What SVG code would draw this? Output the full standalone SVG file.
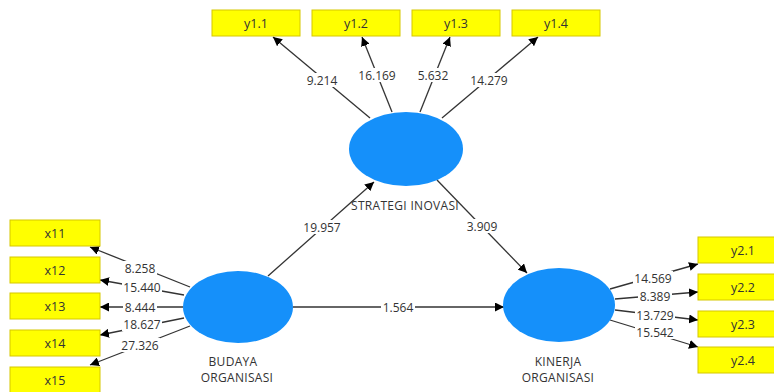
<svg xmlns="http://www.w3.org/2000/svg" width="774" height="392" viewBox="0 0 774 392">
<style>
.box{fill:#ffff00;stroke:#d6c800;stroke-width:1}
.lv{fill:#1590fa}
.bt{font-family:"Open Sans","Noto Sans",sans-serif;font-size:12.5px;fill:#333;text-anchor:middle;dominant-baseline:central}
.lt{font-family:"Open Sans","Noto Sans",sans-serif;font-size:12px;letter-spacing:0.3px;fill:#333;text-anchor:middle;dominant-baseline:central}
.wt{font-family:"Open Sans","Noto Sans",sans-serif;font-size:12px;fill:#333;text-anchor:middle;dominant-baseline:central}
.bg{fill:#fff}
.ln{stroke:#333;stroke-width:1.3;fill:none;marker-end:url(#ah)}
</style>
<defs>
<marker id="ah" viewBox="0 0 10 10" refX="10" refY="5" markerWidth="9" markerHeight="9" markerUnits="userSpaceOnUse" orient="auto">
<path d="M0,0 L10,5 L0,10 z" fill="#000"/>
</marker>
</defs>
<rect width="774" height="392" fill="#fff"/>
<g id="connectors">
<line class="ln" x1="370" y1="118" x2="273" y2="37"/>
<line class="ln" x1="392" y1="112" x2="362" y2="37"/>
<line class="ln" x1="420" y1="112" x2="450" y2="37"/>
<line class="ln" x1="442" y1="118" x2="538" y2="37"/>
<line class="ln" x1="190" y1="287" x2="90" y2="247"/>
<line class="ln" x1="184" y1="295" x2="100" y2="280"/>
<line class="ln" x1="183" y1="307" x2="100" y2="307"/>
<line class="ln" x1="184" y1="318" x2="100" y2="335"/>
<line class="ln" x1="190" y1="326" x2="90" y2="365"/>
<line class="ln" x1="610" y1="289" x2="698" y2="264"/>
<line class="ln" x1="615" y1="299" x2="698" y2="292"/>
<line class="ln" x1="615" y1="310" x2="698" y2="320"/>
<line class="ln" x1="610" y1="320" x2="698" y2="347"/>
<line class="ln" x1="268" y1="276" x2="374" y2="182"/>
<line class="ln" x1="437" y1="180" x2="527" y2="273"/>
<line class="ln" x1="293" y1="307" x2="504" y2="307"/>
<rect class="bg" x="305" y="73" width="34" height="14"/><text class="wt" x="322" y="80">9.214</text>
<rect class="bg" x="357" y="68" width="40" height="14"/><text class="wt" x="377" y="75">16.169</text>
<rect class="bg" x="416" y="68" width="34" height="14"/><text class="wt" x="433" y="75">5.632</text>
<rect class="bg" x="469" y="73" width="40" height="14"/><text class="wt" x="489" y="80">14.279</text>
<rect class="bg" x="123" y="261" width="34" height="14"/><text class="wt" x="140" y="268">8.258</text>
<rect class="bg" x="122" y="280" width="40" height="14"/><text class="wt" x="142" y="287">15.440</text>
<rect class="bg" x="123" y="300" width="34" height="14"/><text class="wt" x="140" y="307">8.444</text>
<rect class="bg" x="122" y="317" width="40" height="14"/><text class="wt" x="142" y="324">18.627</text>
<rect class="bg" x="120" y="338" width="40" height="14"/><text class="wt" x="140" y="345">27.326</text>
<rect class="bg" x="633" y="271" width="40" height="14"/><text class="wt" x="653" y="278">14.569</text>
<rect class="bg" x="638" y="289" width="34" height="14"/><text class="wt" x="655" y="296">8.389</text>
<rect class="bg" x="635" y="308" width="40" height="14"/><text class="wt" x="655" y="315">13.729</text>
<rect class="bg" x="635" y="325" width="40" height="14"/><text class="wt" x="655" y="332">15.542</text>
<rect class="bg" x="302" y="220" width="40" height="14"/><text class="wt" x="322" y="227">19.957</text>
<rect class="bg" x="465" y="219" width="34" height="14"/><text class="wt" x="482" y="226">3.909</text>
<rect class="bg" x="381" y="300" width="34" height="14"/><text class="wt" x="398" y="307">1.564</text>
</g>
<g id="y1.1"><rect class="box" x="212" y="10" width="88" height="26"/><text class="bt" x="256" y="23">y1.1</text></g>
<g id="y1.2"><rect class="box" x="312" y="10" width="88" height="26"/><text class="bt" x="356" y="23">y1.2</text></g>
<g id="y1.3"><rect class="box" x="412" y="10" width="88" height="26"/><text class="bt" x="456" y="23">y1.3</text></g>
<g id="y1.4"><rect class="box" x="512" y="10" width="88" height="26"/><text class="bt" x="556" y="23">y1.4</text></g>
<g id="x11"><rect class="box" x="10" y="220" width="90" height="26"/><text class="bt" x="55" y="233">x11</text></g>
<g id="x12"><rect class="box" x="10" y="257" width="90" height="26"/><text class="bt" x="55" y="270">x12</text></g>
<g id="x13"><rect class="box" x="10" y="293" width="90" height="26"/><text class="bt" x="55" y="306">x13</text></g>
<g id="x14"><rect class="box" x="10" y="330" width="90" height="26"/><text class="bt" x="55" y="343">x14</text></g>
<g id="x15"><rect class="box" x="10" y="367" width="90" height="26"/><text class="bt" x="55" y="380">x15</text></g>
<g id="y2.1"><rect class="box" x="698" y="237" width="90" height="26"/><text class="bt" x="743" y="250">y2.1</text></g>
<g id="y2.2"><rect class="box" x="698" y="274" width="90" height="26"/><text class="bt" x="743" y="287">y2.2</text></g>
<g id="y2.3"><rect class="box" x="698" y="311" width="90" height="26"/><text class="bt" x="743" y="324">y2.3</text></g>
<g id="y2.4"><rect class="box" x="698" y="347" width="90" height="26"/><text class="bt" x="743" y="360">y2.4</text></g>
<g id="strategi"><ellipse class="lv" cx="406" cy="149" rx="57" ry="37"/><text class="lt" x="405" y="205">STRATEGI INOVASI</text></g>
<g id="budaya"><ellipse class="lv" cx="238" cy="307" rx="55" ry="36"/><text class="lt" x="233" y="361">BUDAYA</text><text class="lt" x="237" y="377">ORGANISASI</text></g>
<g id="kinerja"><ellipse class="lv" cx="559" cy="305" rx="56" ry="37"/><text class="lt" x="558" y="361">KINERJA</text><text class="lt" x="558" y="377">ORGANISASI</text></g>
</svg>
